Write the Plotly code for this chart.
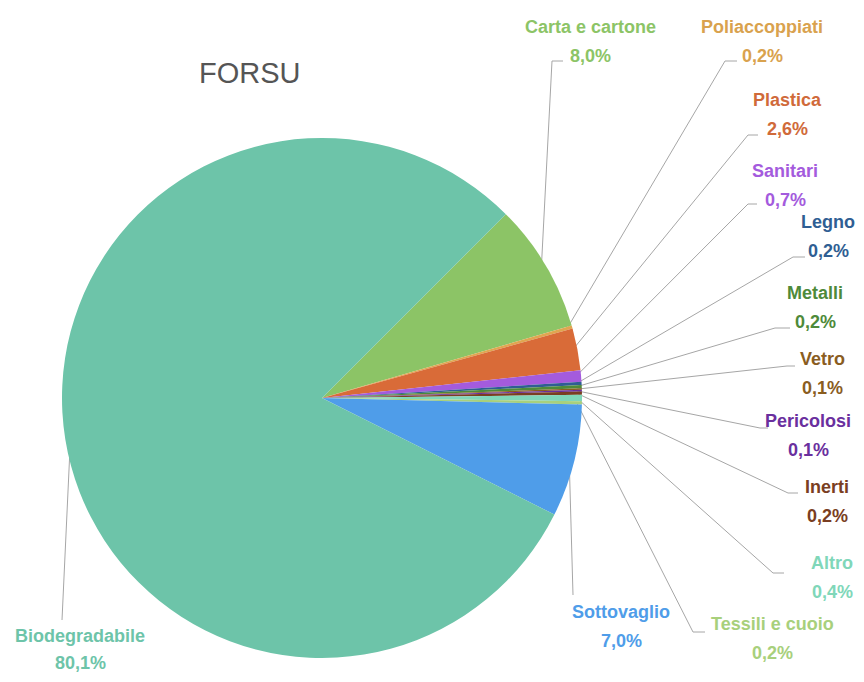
import math
import plotly.graph_objects as go

# ---- data ----
categories = ["Carta e cartone", "Poliaccoppiati", "Plastica", "Sanitari", "Legno",
              "Metalli", "Vetro", "Pericolosi", "Inerti", "Altro",
              "Tessili e cuoio", "Sottovaglio", "Biodegradabile"]
values = [8.0, 0.2, 2.6, 0.7, 0.2, 0.2, 0.1, 0.1, 0.2, 0.4, 0.2, 7.0, 80.1]
colors = ["#8CC466", "#E0A650", "#D96B38", "#A45BDD", "#2F5E93",
          "#4E8A3A", "#8A5D1F", "#6A2F9E", "#7A3E22", "#80D7B9",
          "#A8D07C", "#4F9DE9", "#6DC4A9"]
label_colors = ["#8CC466", "#D9A24E", "#D06A3A", "#A45BDD", "#2F5E93",
                "#4E8A3A", "#8A5D1F", "#6A2F9E", "#7A3E22", "#80D7B9",
                "#A8D07C", "#4F9DE9", "#6DC4A9"]

# ---- layout (pixel coordinates of the browser window) ----
OFF = 8                      # default body margin of the page
W, H = 864 - 2 * OFF, 682 - 2 * OFF
CX, CY, R = 322, 398, 260
ROTATION = 45
# label text centres (x, y of name line), value line below
label_pos = [(590, 27), (762, 27), (787, 100), (785, 171), (828, 222),
             (815, 293), (822, 359), (808, 421), (827, 487), (832, 563),
             (772, 624), (621, 612), (80, 636)]
value_dy = [29, 29, 29, 29, 29, 29, 29, 29, 29, 29, 29, 29, 27]
# leader elbow: (x where leader meets, x near text, y)
elbows = [(552, 563, 61), (725, 737, 61), (748, 758, 135), (748, 757, 204),
          (793, 805, 257), (775, 790, 328), (787, 795, 366), (760, 768, 428),
          (788, 798, 493), (773, 784, 573), (693, 705, 632), (573, 573, 595),
          (62, 62, 620)]


def px2paper_x(px):
    return (px - OFF) / W


def px2paper_y(py):
    return 1 - (py - OFF) / H


fig = go.Figure()

fig.add_trace(go.Pie(
    labels=categories, values=values, sort=False, direction="clockwise",
    rotation=ROTATION, marker=dict(colors=colors, line=dict(width=0)),
    textinfo="none", hoverinfo="label+percent", showlegend=False,
    domain=dict(x=[px2paper_x(CX - R), px2paper_x(CX + R)],
                y=[px2paper_y(CY + R), px2paper_y(CY - R)]),
))

# leader lines from slice mid-angle to the labels
total = sum(values)
xs, ys = [], []
cum = 0.0
for v, (ex0, ex1, ey) in zip(values, elbows):
    mid = ROTATION + (cum + v / 2) / total * 360
    cum += v
    a = math.radians(mid)
    rr = R * 0.98
    px = CX + rr * math.sin(a)
    py = CY - rr * math.cos(a)
    xs += [px, ex0, ex1, None]
    ys += [py, ey, ey, None]

fig.add_trace(go.Scatter(x=xs, y=ys, mode="lines",
                         line=dict(color="#A6A6A6", width=1),
                         hoverinfo="skip", showlegend=False))

font_family = "Liberation Sans, Arial, sans-serif"
for name, v, c, (lx, ly), dy in zip(categories, values, label_colors, label_pos, value_dy):
    fig.add_annotation(x=lx, y=ly, text=name, showarrow=False, xref="x", yref="y",
                       font=dict(family=font_family, size=18, color=c, weight="bold"),
                       xanchor="center", yanchor="middle")
    fig.add_annotation(x=lx, y=ly + dy,
                       text=f"{v:.1f}".replace(".", ",") + "%",
                       showarrow=False, xref="x", yref="y",
                       font=dict(family=font_family, size=18, color=c, weight="bold"),
                       xanchor="center", yanchor="middle")

fig.add_annotation(x=250, y=73, text="FORSU", showarrow=False, xref="x", yref="y",
                   font=dict(family=font_family, size=29, color="#555555"),
                   xanchor="center", yanchor="middle")

fig.update_layout(
    width=W, height=H, margin=dict(l=0, r=0, t=0, b=0),
    paper_bgcolor="white", plot_bgcolor="rgba(0,0,0,0)",
    xaxis=dict(range=[OFF, OFF + W], visible=False, fixedrange=True),
    yaxis=dict(range=[OFF + H, OFF], visible=False, fixedrange=True),
)

fig.write_html("out.html")
